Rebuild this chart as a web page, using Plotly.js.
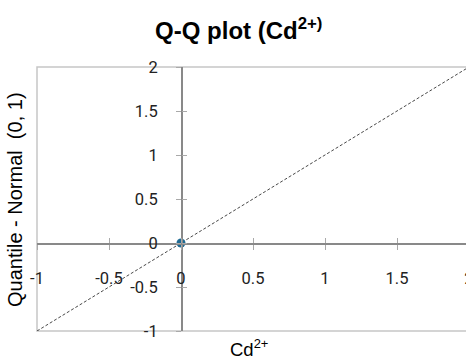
<!DOCTYPE html>
<html>
<head>
<meta charset="utf-8">
<script src="https://cdn.plot.ly/plotly-3.0.1.min.js"></script>
<style>html,body{margin:0;padding:0;overflow:hidden;background:#fff;}</style>
</head>
<body>
<div id="chart"></div>
<script>
// Data
const refLineX = [-1, 2];
const refLineY = [-1, 2];
const pointX = [0];
const pointY = [0];
const xRange = [-1, 2];
const yRange = [-1, 2];
const xTicks = [-1, -0.5, 0, 0.5, 1, 1.5, 2];
const yTicks = [-1, -0.5, 0, 0.5, 1, 1.5, 2];
const xTickText = ['-1', '-0.5', '0', '0.5', '1', '1.5', '2'];
const yTickText = ['-1', '-0.5', '0', '0.5', '1', '1.5', '2'];

const xPos = (0 - yRange[0]) / (yRange[1] - yRange[0]);
const yPos = (0 - xRange[0]) / (xRange[1] - xRange[0]);

const tickFont = {family: 'Roboto, Arial, sans-serif', size: 16.5, color: '#222'};
const axisColor = '#898989';
const tickColor = '#a9a9a9';

const traces = [
  {x: refLineX, y: refLineY, type: 'scatter', mode: 'lines',
   line: {color: '#333', width: 0.9, dash: '3px,2px'}, hoverinfo: 'skip', showlegend: false},
  {x: pointX, y: pointY, type: 'scatter', mode: 'markers',
   marker: {color: '#1f6b93', size: 9}, showlegend: false},
  {x: [], y: [], xaxis: 'x2', yaxis: 'y2', type: 'scatter', mode: 'markers', showlegend: false}
];

const layout = {
  width: 470, height: 362,
  margin: {l: 37, r: 1, t: 67, b: 31},
  paper_bgcolor: '#fff', plot_bgcolor: '#fff',
  title: {text: '<b>Q-Q plot (Cd<sup>2+)</sup></b>', x: 0.508, xref: 'container', xanchor: 'center',
          y: 0.915, yanchor: 'middle',
          font: {family: 'Liberation Sans, Arial, sans-serif', size: 24, color: '#000'}},
  xaxis: {range: xRange, anchor: 'free', position: xPos, side: 'bottom',
          showgrid: false, zeroline: false, showline: true, linecolor: axisColor, linewidth: 1.5,
          ticks: 'outside', ticklen: 5, tickwidth: 1, tickcolor: tickColor,
          tickmode: 'array', tickvals: xTicks, ticktext: xTickText, tickfont: tickFont,
          ticklabelstandoff: 15, ticklabeloverflow: 'allow', fixedrange: true},
  yaxis: {range: yRange, anchor: 'free', position: yPos, side: 'left',
          showgrid: false, zeroline: false, showline: true, linecolor: axisColor, linewidth: 1.5,
          ticks: 'outside', ticklen: 5, tickwidth: 1, tickcolor: tickColor,
          tickmode: 'array', tickvals: yTicks, ticktext: yTickText, tickfont: tickFont,
          ticklabelstandoff: 15, ticklabeloverflow: 'allow', fixedrange: true},
  xaxis2: {range: xRange, overlaying: 'x', anchor: 'free', position: xPos, side: 'bottom',
           showgrid: false, zeroline: false, showline: false,
           ticks: 'inside', ticklen: 5, tickwidth: 1, tickcolor: tickColor,
           tickmode: 'array', tickvals: xTicks, showticklabels: false, fixedrange: true},
  yaxis2: {range: yRange, overlaying: 'y', anchor: 'free', position: yPos, side: 'left',
           showgrid: false, zeroline: false, showline: false,
           ticks: 'inside', ticklen: 5, tickwidth: 1, tickcolor: tickColor,
           tickmode: 'array', tickvals: yTicks, showticklabels: false, fixedrange: true},
  shapes: [{type: 'rect', xref: 'paper', yref: 'paper', x0: 0, x1: 1, y0: 0, y1: 1,
            line: {color: '#c6c6c6', width: 1.5}, layer: 'below'}],
  annotations: [
    {text: 'Quantile - Normal  (0, 1)', xref: 'paper', yref: 'paper', x: -0.051, y: 0.5,
     xanchor: 'center', yanchor: 'middle', textangle: -90, showarrow: false,
     font: {family: 'Liberation Sans, Arial, sans-serif', size: 20, color: '#000'}},
    {text: 'Cd<sup>2+</sup>', xref: 'paper', yref: 'paper', x: 0.49, y: 0, yshift: -17,
     xanchor: 'center', yanchor: 'middle', showarrow: false,
     font: {family: 'Liberation Sans, Arial, sans-serif', size: 18.5, color: '#000'}}
  ],
  showlegend: false
};

Plotly.newPlot('chart', traces, layout, {displayModeBar: false, staticPlot: true});
</script>
</body>
</html>
